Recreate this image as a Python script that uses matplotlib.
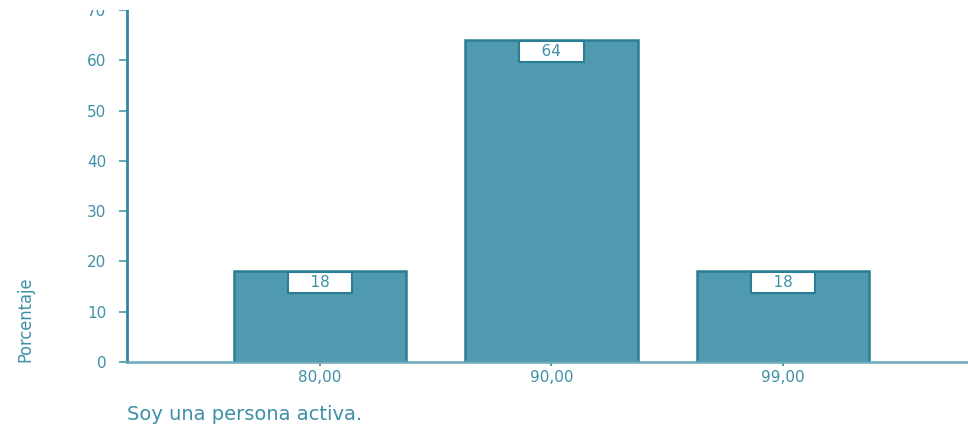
import matplotlib.pyplot as plt
from matplotlib.patches import Rectangle
import numpy as np

# Data
categories = ['80,00', '90,00', '99,00']
percent = [18, 64, 18]
y_ticks = [0, 10, 20, 30, 40, 50, 60, 70]

teal_text = '#3f90a6'
bar_fill = '#4f9aae'
bar_edge = '#2b7d94'

fig = plt.figure(figsize=(9.68, 4.26), dpi=100)
ax = fig.add_axes([0.1312, 0.1502, 0.8688, 0.8263])

x = np.arange(len(categories))
ax.bar(x, percent, width=0.745, color=bar_fill, edgecolor=bar_edge, linewidth=1.8)

# value labels in white boxes at top of each bar
for xi, v in zip(x, percent):
    ax.annotate(f'    {v}    ', xy=(xi, v), xytext=(0, -2.5), textcoords='offset points',
                ha='center', va='top', fontsize=11, color=teal_text,
                family='DejaVu Sans',
                bbox=dict(boxstyle='square,pad=0.2', fc='white', ec=bar_edge, lw=1.5))

ax.set_xlim(-0.834, 2.80)
ax.set_ylim(0, 70)
ax.set_xticks(x)
ax.set_xticklabels(categories)
ax.set_yticks(y_ticks)

for side in ['top', 'right']:
    ax.spines[side].set_visible(False)
ax.spines['left'].set_color('#2f86a0')
ax.spines['left'].set_linewidth(2)
ax.spines['bottom'].set_color('#6aaabb')
ax.spines['bottom'].set_linewidth(1.8)

ax.tick_params(axis='y', length=6, width=1.2, color='#4a98ab', labelcolor=teal_text,
               labelsize=11, pad=9)
ax.tick_params(axis='x', length=3, width=1.2, color='#2f86a0', labelcolor=teal_text,
               labelsize=11, pad=3)

fig.text(0.026, 0.15, 'Porcentaje', rotation=90, ha='center', va='bottom',
         fontsize=13, color=teal_text, fontstretch='condensed',
         family=['Liberation Sans Narrow', 'DejaVu Sans'])
fig.text(0.1312, 0.015, 'Soy una persona activa.', ha='left', va='baseline',
         fontsize=14, color=teal_text, family='DejaVu Sans')

# the reference image is cropped just above the top tick
fig.patches.append(Rectangle((0, 0.977), 1, 0.03, transform=fig.transFigure,
                             facecolor='white', edgecolor='none', zorder=10))

fig.savefig('out.png', dpi=100)
